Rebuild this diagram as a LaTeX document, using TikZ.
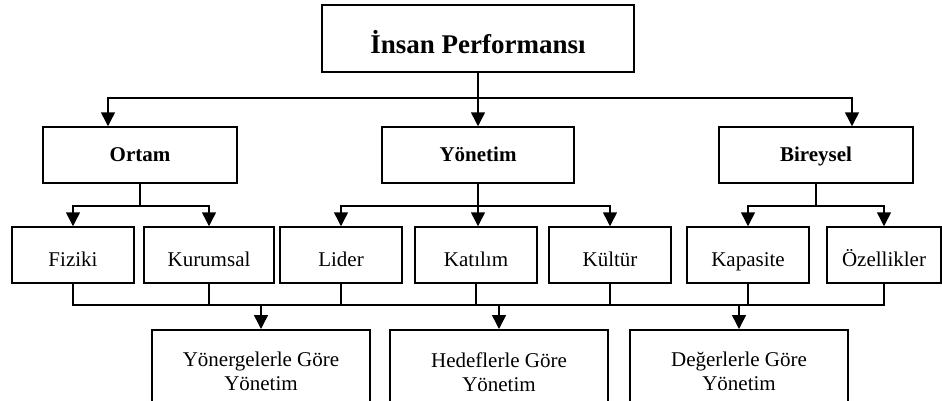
\documentclass[tikz,border=0pt]{standalone}
\usepackage{fontspec}
\setmainfont{Liberation Serif}
\usetikzlibrary{arrows.meta}

\begin{document}
\begin{tikzpicture}[x=1pt, y=-1pt, line width=1.5pt,
    kutu/.style={draw, inner sep=0pt, minimum height=56pt, font=\fontsize{21}{24}\selectfont, text height=22pt, text depth=0pt},
    ana/.style={kutu, font=\fontsize{21}{24}\selectfont\bfseries, text height=15pt, text depth=3pt},
    alt/.style={draw, anchor=north, minimum width=218pt, inner xsep=0pt, inner ysep=22.5pt, align=center, font=\fontsize{21}{24}\selectfont},
    ok/.style={-{Triangle[width=14pt,length=14pt]}}]
    \useasboundingbox (0,0) rectangle (942,400);
    \clip (0,0) rectangle (942,400);

    % Top
    \node[draw, inner sep=0pt, minimum width=312pt, minimum height=67pt, font=\fontsize{27}{30}\selectfont\bfseries, text height=29pt, text depth=0pt] (perf) at (478,38.5) {İnsan Performansı};

    % Second level
    \node[ana, minimum width=194pt] (ortam) at (140,155) {Ortam};
    \node[ana, minimum width=192pt] (yon) at (478,155) {Yönetim};
    \node[ana, minimum width=194pt] (bir) at (816,155) {Bireysel};

    % Third level
    \node[kutu, minimum width=122pt] (fiz) at (73,255) {Fiziki};
    \node[kutu, minimum width=130pt] (kur) at (209,255) {Kurumsal};
    \node[kutu, minimum width=122pt] (lid) at (341,255) {Lider};
    \node[kutu, minimum width=122pt] (kat) at (476,255) {Katılım};
    \node[kutu, minimum width=122pt] (kul) at (610,255) {Kültür};
    \node[kutu, minimum width=122pt] (kap) at (748,255) {Kapasite};
    \node[kutu, minimum width=114pt] (oze) at (884,255) {Özellikler};

    % Bottom
    \node[alt] (yonerge) at (261,329) {Yönergelerle Göre\\Yönetim};
    \node[alt] (hedef) at (499,329) {Hedeflerle Göre\\Yönetim};
    \node[alt] (deger) at (739,329) {Değerlerle Göre\\Yönetim};

    % Buses
    \coordinate (bus1) at (0,98);
    \coordinate (bus3) at (0,305);

    % Top -> second level
    \draw[ok] (perf.south) -- (yon.north);
    \draw[ok] (perf.south |- bus1) -| ([xshift=-32pt]ortam.north);
    \draw[ok] (perf.south |- bus1) -| ([xshift=36pt]bir.north);

    % Second -> third level
    \draw[ok] (ortam.south) -- ++(0,22) -| (fiz.north);
    \draw[ok] (ortam.south) ++(0,22) -| (kur.north);
    \draw[ok] (yon.south) -- (yon.south |- kat.north);
    \draw[ok] (yon.south) ++(0,22) -| (lid.north);
    \draw[ok] (yon.south) ++(0,22) -| (kul.north);
    \draw[ok] (bir.south) -- ++(0,22) -| (kap.north);
    \draw[ok] (bir.south) ++(0,22) -| (oze.north);

    % Third level -> bottom
    \draw (fiz.south) |- (bus3 -| oze.south) -- (oze.south);
    \foreach \n in {kur,lid,kat,kul,kap}
        \draw (\n.south) -- (\n.south |- bus3);
    \foreach \n in {yonerge,hedef,deger}
        \draw[ok] (\n.north |- bus3) -- (\n.north);
\end{tikzpicture}
\end{document}
